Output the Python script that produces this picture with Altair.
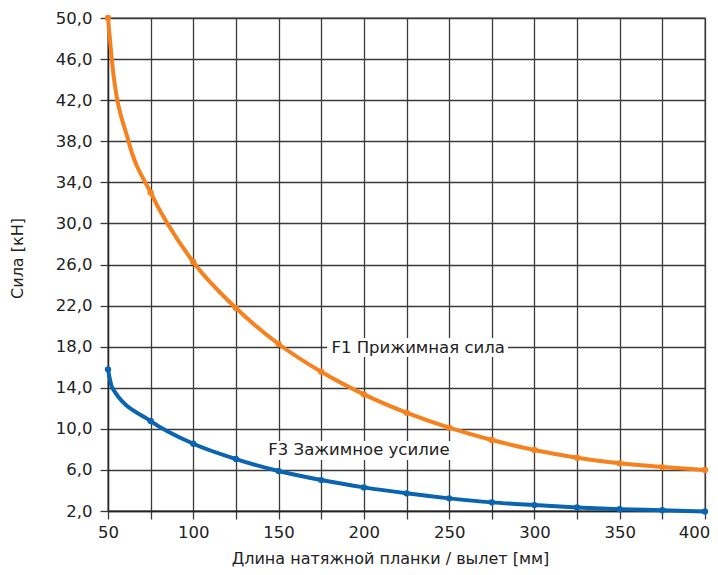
import altair as alt
import pandas as pd

# marked points
x_mm = [50, 75, 100, 125, 150, 175, 200, 225, 250, 275, 300, 325, 350, 375, 400]
f1 = [50.0, 33.0, 26.24, 21.76, 18.26, 15.56, 13.36, 11.57, 10.11, 8.91, 7.94, 7.19, 6.64, 6.28, 5.99]
f3 = [15.79, 10.76, 8.55, 7.06, 5.89, 5.01, 4.30, 3.72, 3.23, 2.84, 2.58, 2.35, 2.18, 2.08, 1.95]
# extra curve samples read from the drawn lines between 50 and 75 mm (no markers)
f1_extra_x = [52.2, 62.0]
f1_extra_y = [46.0, 38.0]
f3_extra_x = [52.5]
f3_extra_y = [14.0]

series_names = ["F1", "F3"]
series_colors = ["#f5821f", "#0a64b0"]

label_text = ["F1 Прижимная сила", "F3 Зажимное усилие"]
label_x = [181.0, 144.0]
label_y = [17.9, 7.9]
box_x = [178.5, 142.3]
box_x2 = [284.5, 254.0]
box_y = [18.84, 8.81]
box_y2 = [16.99, 6.96]

x_ticks = list(range(50, 401, 25))
y_ticks = list(range(2, 51, 4))

pts_rows, line_rows = [], []
for n, vals, ex, ey in zip(series_names, [f1, f3], [f1_extra_x, f3_extra_x], [f1_extra_y, f3_extra_y]):
    for xv, yv in zip(x_mm, vals):
        pts_rows.append({"x": xv, "y": yv, "s": n})
        line_rows.append({"x": xv, "y": yv, "s": n})
    for xv, yv in zip(ex, ey):
        line_rows.append({"x": xv, "y": yv, "s": n})
dpts = pd.DataFrame(pts_rows)
dline = pd.DataFrame(line_rows).sort_values(["s", "x"])
ann = pd.DataFrame({"t": label_text, "x": label_x, "y": label_y,
                    "bx": box_x, "bx2": box_x2, "by": box_y, "by2": box_y2})

FONT = "DejaVu Sans"
xs = alt.Scale(domain=[50, 400], nice=False, zero=False)
ys = alt.Scale(domain=[2, 50], nice=False, zero=False)
color = alt.Color("s:N", scale=alt.Scale(domain=series_names, range=series_colors), legend=None)

xenc = alt.X("x:Q", scale=xs, title="Длина натяжной планки / вылет [мм]",
             axis=alt.Axis(values=x_ticks,
                           labelExpr="datum.value % 50 == 0 ? datum.label : ''",
                           labelOffset=alt.ExprRef(expr="datum.value == 400 ? -11 : 0"),
                           labelFlush=False, labelPadding=5, titlePadding=10,
                           titleX=282, titleAlign="center"))
yenc = alt.Y("y:Q", scale=ys, title="Сила [кН]",
             axis=alt.Axis(values=y_ticks,
                           labelExpr="replace(format(datum.value, '.1f'), '.', ',')",
                           labelFlush=False, labelPadding=8, titlePadding=30,
                           titleY=240))

lines = alt.Chart(dline).mark_line(strokeWidth=4, interpolate="monotone", clip=False).encode(
    x=xenc, y=yenc, color=color, detail="s:N", order="x:Q")
pts = alt.Chart(dpts).mark_circle(size=40, opacity=1).encode(x="x:Q", y="y:Q", color=color)

boxes = alt.Chart(ann).mark_rect(color="white").encode(
    x=alt.X("bx:Q", scale=xs), x2="bx2", y=alt.Y("by:Q", scale=ys), y2="by2")
texts = alt.Chart(ann).mark_text(align="left", baseline="middle", fontSize=16.5,
                                 font=FONT, color="#222").encode(
    x=alt.X("x:Q", scale=xs), y=alt.Y("y:Q", scale=ys), text="t:N")

chart = alt.layer(lines, boxes, texts, pts).properties(
    width=597, height=493,
    autosize=alt.AutoSizeParams(type="none"),
    padding={"left": 100, "top": 10, "right": 5, "bottom": 56},
).configure_axis(
    grid=True, gridColor="#3a3a3a", gridWidth=1.3, gridOpacity=1,
    domainColor="#222", domainWidth=1.3, tickColor="#3a3a3a", tickSize=8, tickWidth=1.3,
    labelFont=FONT, labelFontSize=16.5, labelColor="#222",
    titleFont=FONT, titleFontSize=16, titleFontWeight="normal", titleColor="#222",
).configure_view(stroke="#3a3a3a", strokeWidth=1.3)

chart.save("out.html", embed_options={"renderer": "svg", "actions": False})
